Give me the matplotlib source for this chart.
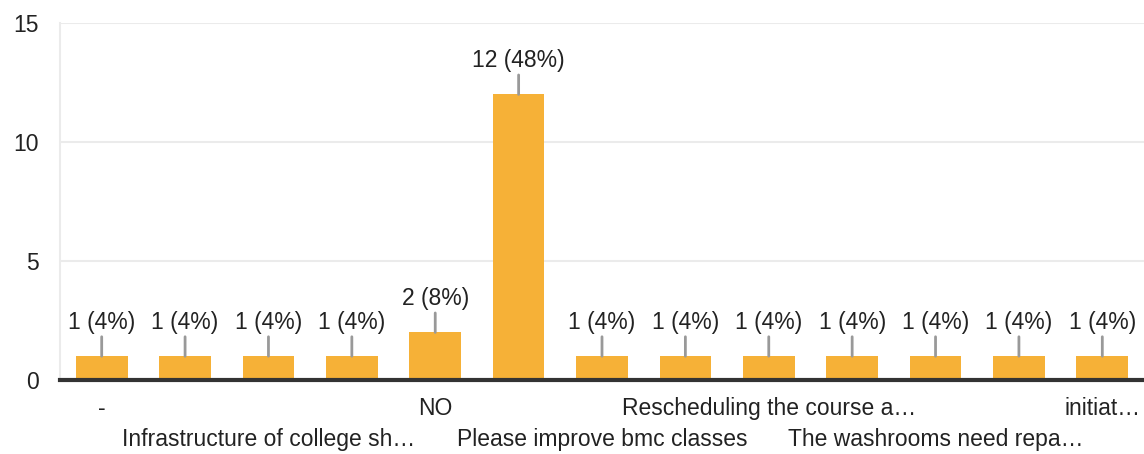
import matplotlib
matplotlib.use('Agg')
import matplotlib.pyplot as plt

plt.rcParams['font.family'] = ['Liberation Sans', 'DejaVu Sans']

# answers (only every other label is shown in the chart)
labels = ['-', '', 'Infrastructure of college sh…', '', 'NO', '',
          'Please improve bmc classes', '', 'Rescheduling the course a…', '',
          'The washrooms need repa…', '', 'initiat…']
counts = [1, 1, 1, 1, 2, 12, 1, 1, 1, 1, 1, 1, 1]
total = 25
yticks = [0, 5, 10, 15]

bar_color = '#F6B137'
text_color = '#222222'
fs = 16.5

fig = plt.figure(figsize=(11.44, 4.54), dpi=100)
ax = fig.add_axes([60/1144, 74/454, 1 - 60/1144, (380-23)/454])

x = list(range(len(counts)))
ax.bar(x, counts, width=0.62, color=bar_color, zorder=3)

# value labels with small leader lines
for i, c in enumerate(counts):
    ax.annotate('%d (%d%%)' % (c, round(c * 100 / total)),
                xy=(i, c), xytext=(0, 16), textcoords='offset points',
                ha='center', va='bottom', fontsize=fs, color=text_color,
                arrowprops=dict(arrowstyle='-', color='#999999', lw=2,
                                shrinkA=0, shrinkB=0),
                zorder=4)

ax.set_xlim(-0.5, len(counts) - 0.5)
ax.set_ylim(0, 15)
ax.set_yticks(yticks)
ax.set_yticklabels([str(t) for t in yticks], fontsize=fs, color=text_color)
ax.tick_params(axis='y', length=0, pad=15)

# alternate labels over two rows: first row as ticks, second row as text
row1 = [i for i, l in enumerate(labels) if l and i % 4 == 0]
row2 = [i for i, l in enumerate(labels) if l and i % 4 == 2]
ax.set_xticks(row1)
ax.set_xticklabels([labels[i] for i in row1], fontsize=fs, color=text_color)
ax.tick_params(axis='x', length=0, pad=12)
for i in row2:
    ax.annotate(labels[i], xy=(i, 0), xycoords=('data', 'axes fraction'),
                xytext=(0, -43), textcoords='offset points',
                ha='center', va='center', fontsize=fs, color=text_color)

ax.grid(axis='y', color='#ebebeb', lw=1.5, zorder=0)
for s in ['top', 'right']:
    ax.spines[s].set_visible(False)
ax.spines['left'].set_color('#ebebeb')
ax.spines['left'].set_linewidth(1.5)
ax.spines['bottom'].set_color('#333333')
ax.spines['bottom'].set_linewidth(3)
ax.spines['bottom'].set_zorder(5)

fig.savefig('out.png', dpi=100)
